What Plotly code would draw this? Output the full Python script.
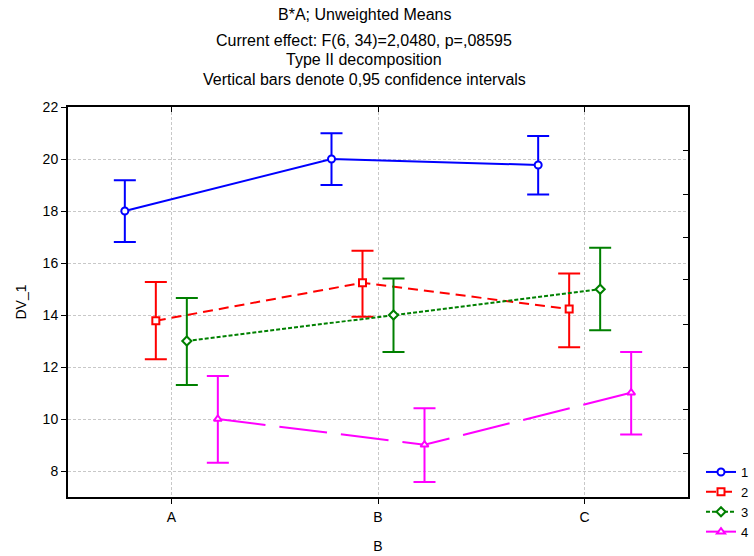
import plotly.graph_objects as go

categories = ["A", "B", "C"]
series_names = ["1", "2", "3", "4"]
means = [
    [18.0, 20.0, 19.77],
    [13.78, 15.24, 14.23],
    [13.0, 14.0, 14.99],
    [10.0, 9.01, 11.01],
]
ci_upper = [
    [19.18, 20.99, 20.88],
    [15.27, 16.47, 15.60],
    [14.65, 15.40, 16.59],
    [11.65, 10.41, 12.58],
]
ci_lower = [
    [16.81, 19.0, 18.63],
    [12.30, 13.93, 12.76],
    [11.31, 12.58, 13.41],
    [8.32, 7.58, 9.40],
]
offsets = [-0.225, -0.075, 0.075, 0.225]
colors = ["#0000ff", "#ff0000", "#008000", "#ff00ff"]
dashes = ["solid", "10px,6px", "4px,2px", "48px,14px"]
symbols = ["circle", "square", "diamond", "triangle-up"]
y_ticks = [8, 10, 12, 14, 16, 18, 20, 22]
right_ticks = [8.69, 10.35, 12.0, 13.65, 15.35, 17.0, 18.65, 20.31]

FONT = "Liberation Sans, Arial, sans-serif"
W, H = 754, 556
ML, MR, MT, MB = 68, 66, 107, 59
PW = W - ML - MR
PH = H - MT - MB

fig = go.Figure()
for i, name in enumerate(series_names):
    xs = [k + offsets[i] for k in range(len(categories))]
    m = means[i]
    fig.add_trace(go.Scatter(
        x=xs, y=m, name=name, mode="lines+markers",
        line=dict(color=colors[i], width=2, dash=dashes[i]),
        marker=dict(symbol=symbols[i], size=7, color="white",
                    line=dict(color=colors[i], width=2)),
        error_y=dict(type="data", symmetric=False,
                     array=[u - v for u, v in zip(ci_upper[i], m)],
                     arrayminus=[v - l for v, l in zip(m, ci_lower[i])],
                     color=colors[i], thickness=2, width=11),
    ))

# invisible trace for mirror axes
fig.add_trace(go.Scatter(x=[0], y=[7], xaxis="x2", yaxis="y2", mode="markers",
                         marker=dict(opacity=0), showlegend=False, hoverinfo="skip"))

title_lines = [
    ("B*A; Unweighted Means", 15),
    ("Current effect: F(6, 34)=2,0480, p=,08595", 41),
    ("Type II decomposition", 60),
    ("Vertical bars denote 0,95 confidence intervals", 79),
]
annotations = []
for txt, ypix in title_lines:
    annotations.append(dict(
        text=txt, x=(364 - ML) / PW, y=(H - MB - ypix) / PH,
        xref="paper", yref="paper",
        showarrow=False, font=dict(size=16, color="black", family=FONT),
        xanchor="center", yanchor="middle"))

fig.update_layout(
    annotations=annotations,
    width=W, height=H,
    margin=dict(l=ML, r=MR, t=MT, b=MB, autoexpand=False),
    paper_bgcolor="white", plot_bgcolor="white",
    font=dict(family=FONT, size=14, color="black"),
    showlegend=True,
    legend=dict(x=(701 - ML) / PW, y=(H - MB - 457) / PH,
                xanchor="left", yanchor="top",
                bgcolor="rgba(0,0,0,0)", font=dict(size=13),
                tracegroupgap=0),
    xaxis=dict(range=[-0.5, 2.5], tickvals=[0, 1, 2], ticktext=categories,
               ticks="outside", ticklen=5, tickcolor="black",
               ticklabelstandoff=1, automargin=False,
               showline=True, linecolor="black", linewidth=2,
               showgrid=True, gridcolor="#c8c8c8", griddash="3px,2px", gridwidth=1,
               zeroline=False,
               title=dict(text="B", standoff=17, font=dict(size=14)),
               tickfont=dict(size=14)),
    yaxis=dict(range=[7, 22], tickvals=y_ticks,
               ticks="outside", ticklen=5, tickcolor="black", automargin=False,
               showline=True, linecolor="black", linewidth=2,
               showgrid=True, gridcolor="#c8c8c8", griddash="3px,2px", gridwidth=1,
               zeroline=False,
               title=dict(text="DV_1", standoff=13, font=dict(size=14)),
               tickfont=dict(size=14)),
    xaxis2=dict(range=[-0.5, 2.5], overlaying="x", side="top", anchor="y",
                tickvals=[0, 1, 2], showticklabels=False, automargin=False,
                ticks="inside", ticklen=5, tickcolor="black",
                showline=True, linecolor="black", linewidth=2,
                showgrid=False, zeroline=False),
    yaxis2=dict(range=[7, 22], overlaying="y", side="right", anchor="x",
                tickvals=right_ticks, showticklabels=False, automargin=False,
                ticks="inside", ticklen=5, tickcolor="black",
                showline=True, linecolor="black", linewidth=2,
                showgrid=False, zeroline=False),
)

fig.write_html("out.html")
